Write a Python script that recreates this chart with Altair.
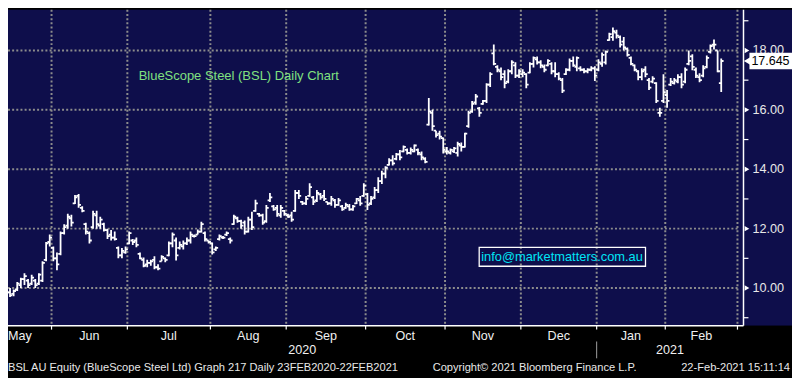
import altair as alt
import numpy as np
import pandas as pd

# ---------------- data ----------------
HOLIDAYS = ["2020-06-08", "2020-12-25", "2020-12-28", "2021-01-01", "2021-01-26"]
CAL_START = "2020-05-01"
CAL_END = "2021-03-01"
FIRST_BAR = "2020-05-12"

open_ = [10.45, 10.15, 9.85, 9.8, 9.95, 10.1, 10.3, 10.25, 10.15, 10.25,
         10.15, 10.25, 10.95, 11.55, 11.35, 11.0, 11.15, 11.85, 12.1, 12.35,
         12.85, 13.1, 12.7, 12.15, 11.85, 12.05, 12.45, 12.1, 12.15, 11.95,
         11.8, 11.7, 11.35, 11.1, 11.2, 11.5, 11.6, 11.6, 11.15, 10.95,
         10.8, 10.85, 10.95, 10.7, 10.9, 11.0, 11.1, 11.5, 11.6, 11.35,
         11.4, 11.5, 11.6, 11.75, 11.8, 11.9, 11.85, 11.6, 11.5, 11.3,
         11.65, 11.7, 11.8, 11.65, 12.15, 12.35, 12.25, 12.2, 11.9, 12.3,
         12.6, 12.5, 12.45, 12.25, 12.95, 12.75, 12.7, 12.45, 12.6, 12.45,
         12.45, 12.6, 13.2, 12.9, 12.85, 13.1, 13.05, 12.95, 13.15, 13.1,
         12.9, 12.85, 12.95, 12.8, 12.75, 12.7, 12.75, 12.65, 12.85, 12.95,
         13.1, 13.15, 12.85, 13.05, 13.3, 13.6, 13.85, 14.15, 14.3, 14.35,
         14.5, 14.6, 14.65, 14.55, 14.6, 14.65, 14.5, 14.35, 15.5, 15.9,
         15.3, 15.2, 15.05, 14.6, 14.55, 14.6, 14.55, 14.8, 14.75, 15.45,
         15.95, 16.25, 16.05, 16.2, 16.3, 16.85, 17.9, 17.45, 17.3, 17.2,
         16.95, 17.3, 17.5, 17.15, 17.2, 17.2, 17.25, 17.55, 17.7, 17.6,
         17.45, 17.5, 17.55, 17.3, 17.2, 17.0, 17.2, 17.35, 17.65, 17.45,
         17.4, 17.35, 17.3, 17.35, 17.4, 17.35, 17.55, 17.6, 18.35, 18.45,
         18.6, 18.45, 18.3, 18.05, 17.75, 17.5, 17.3, 17.1, 17.35, 17.0,
         16.95, 16.9, 15.9, 16.3, 16.5, 16.85, 16.9, 16.95, 17.1, 16.95,
         17.55, 17.8, 17.35, 17.1, 17.15, 17.45, 17.95, 18.2, 18.0, 16.9]
high = [10.5, 10.2, 10.0, 9.95, 10.2, 10.35, 10.5, 10.3, 10.45, 10.3,
        10.5, 10.9, 11.55, 11.8, 11.4, 11.2, 11.9, 12.15, 12.5, 12.47,
        13.13, 13.17, 12.75, 12.2, 11.9, 12.6, 12.6, 12.4, 12.2, 12.0,
        11.95, 11.9, 11.4, 11.35, 11.4, 11.9, 11.65, 11.7, 11.2, 11.03,
        10.95, 10.95, 11.07, 10.8, 11.1, 11.03, 11.57, 11.87, 11.7, 11.57,
        11.6, 11.7, 11.9, 11.8, 11.97, 12.23, 11.9, 11.6, 11.53, 11.4,
        11.8, 11.75, 11.9, 11.7, 12.47, 12.4, 12.3, 12.27, 12.4, 12.57,
        12.97, 12.53, 12.5, 12.8, 13.2, 12.8, 12.8, 12.8, 12.63, 12.5,
        12.57, 13.3, 13.3, 12.93, 13.1, 13.53, 13.1, 13.3, 13.2, 13.3,
        12.9, 13.1, 13.0, 13.03, 12.8, 12.87, 12.83, 12.8, 13.03, 13.1,
        13.53, 13.2, 13.1, 13.4, 13.73, 13.95, 14.1, 14.37, 14.47, 14.55,
        14.65, 14.8, 14.7, 14.73, 14.83, 14.7, 14.6, 14.4, 16.4, 16.0,
        15.3, 15.3, 15.07, 14.75, 14.7, 14.75, 14.93, 14.9, 15.23, 15.97,
        16.3, 16.53, 16.1, 16.33, 16.9, 17.27, 18.2, 17.5, 17.43, 17.33,
        17.37, 17.67, 17.6, 17.37, 17.37, 17.23, 17.6, 17.8, 17.8, 17.67,
        17.53, 17.7, 17.6, 17.6, 17.27, 17.07, 17.4, 17.73, 17.8, 17.8,
        17.47, 17.4, 17.4, 17.47, 17.47, 17.7, 17.93, 18.0, 18.6, 18.77,
        18.7, 18.5, 18.45, 18.1, 17.8, 17.53, 17.33, 17.4, 17.47, 17.07,
        17.13, 16.93, 16.07, 17.2, 16.67, 17.07, 17.07, 17.2, 17.23, 17.43,
        18.0, 17.87, 17.43, 17.23, 17.5, 17.83, 18.2, 18.37, 18.0, 17.73]
low = [10.15, 9.8, 9.7, 9.72, 9.9, 10.0, 10.1, 10.0, 10.1, 10.0,
       10.1, 10.2, 10.9, 11.4, 10.9, 10.6, 11.1, 11.8, 12.0, 12.07,
       12.83, 12.7, 12.55, 11.8, 11.5, 12.0, 12.0, 12.0, 11.9, 11.65,
       11.6, 11.6, 11.0, 11.0, 11.15, 11.47, 11.45, 11.37, 10.97, 10.7,
       10.7, 10.75, 10.63, 10.6, 10.9, 10.87, 11.07, 11.37, 10.93, 11.3,
       11.3, 11.45, 11.5, 11.7, 11.8, 11.87, 11.57, 11.5, 11.13, 11.25,
       11.6, 11.65, 11.75, 11.5, 12.13, 12.2, 12.0, 11.8, 11.87, 11.95,
       12.57, 12.4, 12.13, 12.2, 12.9, 12.6, 12.4, 12.37, 12.43, 12.37,
       12.23, 12.57, 13.0, 12.8, 12.8, 13.07, 12.8, 12.9, 12.97, 12.93,
       12.8, 12.77, 12.7, 12.77, 12.6, 12.67, 12.6, 12.6, 12.83, 12.77,
       13.07, 12.63, 12.8, 13.0, 13.2, 13.5, 13.7, 14.13, 14.13, 14.3,
       14.3, 14.57, 14.5, 14.5, 14.57, 14.47, 14.3, 14.2, 15.47, 15.3,
       15.07, 15.0, 14.53, 14.5, 14.5, 14.55, 14.43, 14.6, 14.73, 15.4,
       15.9, 16.17, 15.77, 16.17, 16.23, 16.77, 17.5, 17.27, 17.0, 16.73,
       16.9, 17.2, 17.07, 17.07, 17.1, 16.73, 17.23, 17.43, 17.53, 17.4,
       17.27, 17.47, 17.2, 17.1, 17.0, 16.57, 17.17, 17.3, 17.45, 17.3,
       17.3, 17.23, 17.23, 17.3, 16.97, 17.3, 17.45, 17.53, 18.33, 18.33,
       18.4, 18.1, 18.0, 17.8, 17.5, 17.3, 17.0, 17.0, 17.1, 16.67,
       16.9, 16.23, 15.77, 16.23, 16.07, 16.8, 16.85, 16.9, 16.73, 16.9,
       17.5, 17.33, 17.07, 16.93, 17.1, 17.4, 17.9, 18.03, 17.27, 16.6]
close = [10.2, 9.85, 9.75, 9.9, 10.15, 10.3, 10.4, 10.1, 10.35, 10.1,
         10.45, 10.85, 11.5, 11.7, 11.0, 10.8, 11.85, 12.05, 12.4, 12.2,
         13.05, 12.8, 12.6, 11.9, 11.6, 12.5, 12.15, 12.3, 11.95, 11.75,
         11.7, 11.65, 11.1, 11.25, 11.3, 11.85, 11.55, 11.45, 11.0, 10.75,
         10.85, 10.9, 10.7, 10.65, 11.05, 10.95, 11.5, 11.8, 11.1, 11.45,
         11.5, 11.6, 11.8, 11.75, 11.9, 12.15, 11.65, 11.55, 11.2, 11.35,
         11.75, 11.7, 11.85, 11.6, 12.4, 12.25, 12.1, 11.9, 12.3, 12.05,
         12.85, 12.45, 12.2, 12.7, 13.05, 12.65, 12.5, 12.7, 12.5, 12.4,
         12.3, 13.2, 13.1, 12.85, 13.0, 13.4, 12.9, 13.2, 13.05, 13.0,
         12.85, 13.0, 12.8, 12.95, 12.65, 12.8, 12.65, 12.75, 13.0, 12.85,
         13.45, 12.8, 13.0, 13.3, 13.6, 13.85, 14.05, 14.3, 14.2, 14.5,
         14.4, 14.75, 14.55, 14.65, 14.8, 14.55, 14.4, 14.25, 15.95, 15.45,
         15.15, 15.1, 14.65, 14.6, 14.65, 14.7, 14.85, 14.75, 15.2, 15.9,
         16.2, 16.45, 15.9, 16.3, 16.85, 17.2, 17.55, 17.35, 17.1, 16.9,
         17.3, 17.6, 17.15, 17.3, 17.25, 16.85, 17.55, 17.75, 17.6, 17.5,
         17.35, 17.65, 17.3, 17.2, 17.05, 16.65, 17.35, 17.65, 17.5, 17.75,
         17.35, 17.3, 17.35, 17.4, 17.15, 17.6, 17.85, 17.95, 18.55, 18.65,
         18.5, 18.2, 18.1, 17.85, 17.55, 17.35, 17.1, 17.3, 17.2, 16.75,
         17.05, 16.3, 15.9, 16.6, 16.3, 16.95, 17.0, 17.1, 16.85, 17.35,
         17.65, 17.45, 17.15, 17.0, 17.4, 17.75, 18.15, 18.2, 17.3, 17.645]

month_names = ["May", "Jun", "Jul", "Aug", "Sep", "Oct", "Nov", "Dec", "Jan", "Feb"]
year_names = ["2020", "2021"]
major_ticks = [10, 12, 14, 16, 18]
minor_ticks = [9, 11, 13, 15, 17, 19]
last_price = 17.645

title_text = "BlueScope Steel (BSL) Daily Chart"
email_text = "info@marketmatters.com.au"
footer_left = "BSL AU Equity (BlueScope Steel Ltd) Graph 217  Daily 23FEB2020-22FEB2021"
footer_mid = "Copyright\u00a9 2021 Bloomberg Finance L.P."
footer_right = "22-Feb-2021 15:11:14"

# ---------------- layout / style ----------------
NAVY = "#0e0e4b"
GRID = "#8c8c8c"
FONT = "Liberation Sans"
W, H = 743, 319
XMIN, XMAX = 1.44, 205.17
YMIN, YMAX = 8.733, 19.367

# trading-day calendar -> bar index
cal = pd.bdate_range(CAL_START, CAL_END)
cal = cal[~cal.isin(pd.to_datetime(HOLIDAYS))]
first = cal.get_loc(pd.Timestamp(FIRST_BAR))
pos = np.arange(len(cal)) - first
cal_df = pd.DataFrame({"date": cal, "pos": pos})
bounds = (cal_df.groupby([cal_df.date.dt.year, cal_df.date.dt.month])["pos"].min().values - 0.5)

n = len(close)
bars = pd.DataFrame({"i": pos[first:first + n], "o": open_, "h": high, "l": low, "c": close})
bars["xo"] = bars["i"] - 0.65
bars["xc"] = bars["i"] + 0.65

xs = alt.Scale(domain=[XMIN, XMAX], nice=False, zero=False)
ys = alt.Scale(domain=[YMIN, YMAX], nice=False, zero=False)


def X(f):
    return alt.X(f, type="quantitative", scale=xs, axis=None)


def Y(f):
    return alt.Y(f, type="quantitative", scale=ys, axis=None)


one = pd.DataFrame({"k": [0]})
grid_b = pd.DataFrame({"b": bounds[1:]})
months_df = pd.DataFrame({"m": [(bounds[k] + bounds[k + 1]) / 2 for k in range(1, len(month_names))],
                          "t": month_names[1:]})
b_jan = bounds[8]
years_df = pd.DataFrame({"m": [(XMIN + b_jan) / 2, (b_jan + XMAX) / 2], "t": year_names})
major_df = pd.DataFrame({"v": major_ticks, "t": [f"{v:.2f}" for v in major_ticks]})
minor_df = pd.DataFrame({"v": minor_ticks})
price_df = pd.DataFrame({"p": [last_price], "t": [f"{last_price:.3f}"]})
price_df["top"] = price_df["p"] + 0.28
price_df["bot"] = price_df["p"] - 0.28

bg = alt.Chart(one).mark_rect(color=NAVY).encode(
    x=alt.value(0), x2=alt.value(792), y=alt.value(0), y2=alt.value(H))
bg2 = alt.Chart(one).mark_rect(color="#000000").encode(
    x=alt.value(0), x2=alt.value(792), y=alt.value(H), y2=alt.value(370))

hgrid = alt.Chart(major_df).mark_rule(color=GRID, strokeWidth=2, strokeDash=[2, 2.2]).encode(
    y=Y("v"), x=alt.value(0), x2=alt.value(737))
vgrid = alt.Chart(grid_b).mark_rule(color=GRID, strokeWidth=2, strokeDash=[2, 2.2]).encode(
    x=X("b"), y=alt.value(0), y2=alt.value(H))

hl = alt.Chart(bars).mark_rule(color="white", strokeWidth=1.8, clip=True).encode(
    x=X("i"), y=Y("l"), y2="h")
op = alt.Chart(bars).mark_rule(color="white", strokeWidth=1.8, clip=True).encode(
    x=X("xo"), x2="i", y=Y("o"))
cl = alt.Chart(bars).mark_rule(color="white", strokeWidth=1.8, clip=True).encode(
    x=X("i"), x2="xc", y=Y("c"))

right_line = alt.Chart(one).mark_rule(color="white", strokeWidth=1.5).encode(
    x=alt.value(W), y=alt.value(0), y2=alt.value(H))
bottom_line = alt.Chart(one).mark_rule(color="white", strokeWidth=1.5).encode(
    x=alt.value(0), x2=alt.value(W), y=alt.value(H))
bottom_ticks = alt.Chart(grid_b).mark_rule(color="white", strokeWidth=1.2).encode(
    x=X("b"), y=alt.value(H), y2=alt.value(H + 4))
minor = alt.Chart(minor_df).mark_rule(color="white", strokeWidth=1.2).encode(
    y=Y("v"), x=alt.value(W), x2=alt.value(W + 5))
arrows = alt.Chart(major_df).mark_point(shape="triangle-right", filled=True, color="white",
                                        size=30, opacity=1).encode(y=Y("v"), x=alt.value(W + 3.5))
ylabels = alt.Chart(major_df).mark_text(align="left", baseline="middle", font=FONT, fontSize=12.8,
                                        color="#e8e8e8").encode(y=Y("v"), x=alt.value(W + 9), text="t:N")

pbox = alt.Chart(price_df).mark_rect(color="white").encode(
    x=alt.value(W + 6), x2=alt.value(792), y=Y("top"), y2="bot")
parrow = alt.Chart(price_df).mark_point(shape="triangle-left", filled=True, color="white",
                                        size=70, opacity=1).encode(y=Y("p"), x=alt.value(W + 4))
ptext = alt.Chart(price_df).mark_text(align="left", baseline="middle", font=FONT, fontSize=12.6,
                                      color="#000000").encode(y=Y("p"), x=alt.value(W + 8), text="t:N")

title = alt.Chart(one).mark_text(align="left", baseline="middle", font=FONT, fontSize=13.1,
                                 color="#80e080").encode(x=alt.value(132), y=alt.value(67),
                                                         text=alt.value(title_text))
ebox = alt.Chart(one).mark_rect(filled=False, stroke="white", strokeWidth=1.3).encode(
    x=alt.value(476), x2=alt.value(644), y=alt.value(240), y2=alt.value(259))
etext = alt.Chart(one).mark_text(align="left", baseline="middle", font=FONT, fontSize=13,
                                 color="#00e5f5").encode(x=alt.value(478), y=alt.value(249.5),
                                                         text=alt.value(email_text))

mlabels = alt.Chart(months_df).mark_text(align="center", baseline="middle", font=FONT, fontSize=12.7,
                                         color="#f0f0f0").encode(x=X("m"), y=alt.value(329), text="t:N")
may = alt.Chart(one).mark_text(align="left", baseline="middle", font=FONT, fontSize=12.7,
                               color="#f0f0f0").encode(x=alt.value(0), y=alt.value(329),
                                                       text=alt.value(month_names[0]))
ylab = alt.Chart(years_df).mark_text(align="center", baseline="middle", font=FONT, fontSize=12.7,
                                     color="#f0f0f0").encode(x=X("m"), y=alt.value(344), text="t:N")
sep = alt.Chart(pd.DataFrame({"b": [b_jan]})).mark_rule(color="#a0a0a0", strokeWidth=1).encode(
    x=X("b"), y=alt.value(335), y2=alt.value(352))

f1 = alt.Chart(one).mark_text(align="left", baseline="middle", font=FONT, fontSize=11.2,
                              color="#e8e8e8").encode(x=alt.value(0), y=alt.value(362),
                                                      text=alt.value(footer_left))
f2 = alt.Chart(one).mark_text(align="left", baseline="middle", font=FONT, fontSize=11.2,
                              color="#e8e8e8").encode(x=alt.value(429), y=alt.value(362),
                                                      text=alt.value(footer_mid))
f3 = alt.Chart(one).mark_text(align="right", baseline="middle", font=FONT, fontSize=11.2,
                              color="#e8e8e8").encode(x=alt.value(790), y=alt.value(362),
                                                      text=alt.value(footer_right))

chart = alt.layer(
    bg, bg2, hgrid, vgrid, hl, op, cl, right_line, bottom_line, bottom_ticks, minor, arrows,
    ylabels, pbox, parrow, ptext, title, ebox, etext, mlabels, may, ylab, sep, f1, f2, f3
).properties(
    width=W, height=H,
    autosize=alt.AutoSizeParams(type="none"),
    padding={"left": 0, "top": 0, "right": 49, "bottom": 51},
    background="#000000",
).configure_view(stroke=None)

chart.save("out.html", embed_options={"renderer": "svg", "actions": False})
